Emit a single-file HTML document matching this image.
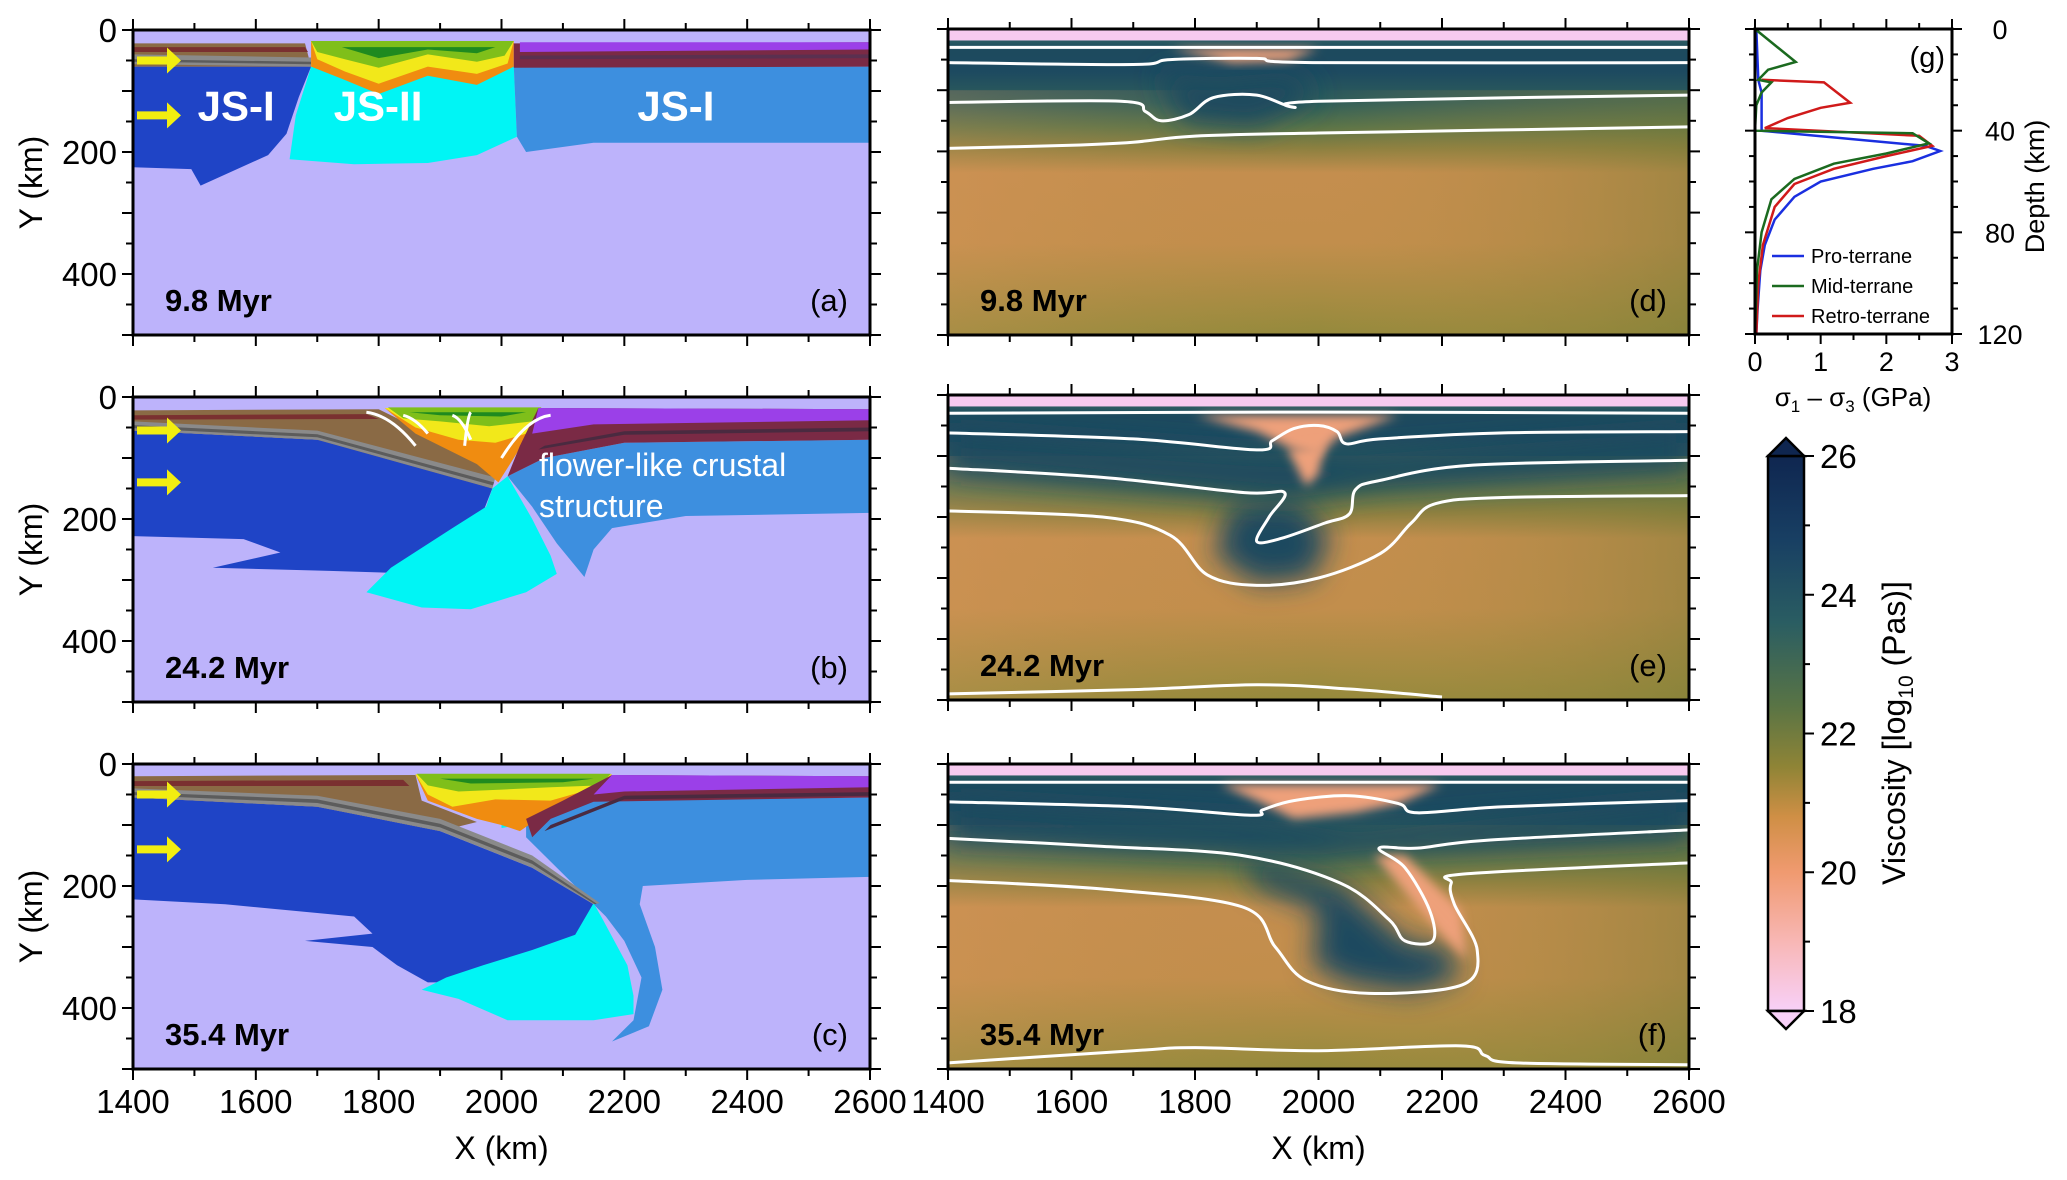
<!DOCTYPE html>
<html><head><meta charset="utf-8">
<style>
html,body{margin:0;padding:0;background:#fff;}
svg{display:block;font-family:"Liberation Sans",Arial,sans-serif;}
</style></head>
<body>
<svg id="fig" width="2067" height="1180" viewBox="0 0 2067 1180" xmlns="http://www.w3.org/2000/svg">
<defs>
<linearGradient id="visc" x1="0" y1="0" x2="0" y2="1">
<stop offset="0" stop-color="#f6caef"/><stop offset="0.035" stop-color="#f6caef"/>
<stop offset="0.04" stop-color="#2a5a62"/><stop offset="0.07" stop-color="#1d4a5e"/>
<stop offset="0.14" stop-color="#1d4a60"/><stop offset="0.24" stop-color="#2f5e5a"/>
<stop offset="0.32" stop-color="#5a7448"/><stop offset="0.39" stop-color="#8c8040"/>
<stop offset="0.47" stop-color="#c48e4e"/><stop offset="0.7" stop-color="#c28e4c"/>
<stop offset="1" stop-color="#948a3c"/>
</linearGradient>
<linearGradient id="vh" x1="0" y1="0" x2="1" y2="0">
<stop offset="0" stop-color="#e29a60" stop-opacity="0.25"/><stop offset="0.5" stop-color="#c09048" stop-opacity="0"/><stop offset="1" stop-color="#7f7e38" stop-opacity="0.5"/>
</linearGradient>
<linearGradient id="cbar" x1="0" y1="0" x2="0" y2="1">
<stop offset="0" stop-color="#0f2650"/><stop offset="0.15" stop-color="#183f63"/>
<stop offset="0.3" stop-color="#2a5d62"/><stop offset="0.45" stop-color="#597445"/>
<stop offset="0.56" stop-color="#8f8436"/><stop offset="0.65" stop-color="#cf8f45"/>
<stop offset="0.75" stop-color="#f09a70"/><stop offset="0.88" stop-color="#f8b8b8"/>
<stop offset="1" stop-color="#f8d0f8"/>
</linearGradient>
<filter id="blur" x="-50%" y="-50%" width="200%" height="200%"><feGaussianBlur stdDeviation="14"/></filter>
<filter id="blur2" x="-50%" y="-50%" width="200%" height="200%"><feGaussianBlur stdDeviation="5"/></filter>
<clipPath id="clipD"><rect x="948" y="0" width="741" height="1180"/></clipPath>
</defs>
<g id="root"></g>
</svg>
<script>
// ---- panel (g) data: differential stress profiles ----
const gDepth = [0, 40, 80, 120];
const gXTicks = [0, 1, 2, 3];
const proStress = [0.02,0.05,0.1,0.1,2.6,2.82,2.4,1.8,1.0,0.6,0.3,0.15,0.08,0.04,0.02];
const proDepth  = [0,20,25,40,46,48,52,55,60,66,75,85,95,110,120];
const midStress = [0,0.62,0.2,0.05,0.25,0.1,0.02,0,2.4,2.65,2.0,1.2,0.6,0.25,0.1,0.03,0];
const midDepth  = [0,13,16,20,21,25,30,40,41,45,49,53,59,67,80,95,120];
const retroStress = [0.1,1.05,1.45,1.0,0.5,0.15,2.5,2.7,2.0,1.2,0.6,0.3,0.12,0.05,0.02];
const retroDepth  = [20,21,29,31,35,39,42,46,50,55,61,70,85,100,120];
const legendNames = ["Pro-terrane","Mid-terrane","Retro-terrane"];
const legendColors = ["#1a2fe0","#1b6a1f","#d01a1a"];
const cbarTicks = [18,20,22,24,26];

const NS="http://www.w3.org/2000/svg";
const root=document.getElementById('root');
function el(tag,attrs,parent,text){const e=document.createElementNS(NS,tag);for(const k in attrs)e.setAttribute(k,attrs[k]);if(text!==undefined)e.textContent=text;(parent||root).appendChild(e);return e;}

const panelsL={a:[30,335],b:[397,702],c:[764,1069]};
const LX=[133,870], RX=[948,1689];
function mk(x0,x1,y0,y1){return {sx:v=>x0+(v-1400)/1200*(x1-x0),sy:v=>y0+v/500*(y1-y0),x0,x1,y0,y1};}
function pts(P,arr){return arr.map(p=>P.sx(p[0]).toFixed(1)+','+P.sy(p[1]).toFixed(1)).join(' ');}
function poly(P,arr,fill,g,name){const e=el('polygon',{points:pts(P,arr),fill:fill},g);return e;}
function smooth(P,arr){let d='M'+P.sx(arr[0][0])+','+P.sy(arr[0][1]);for(let i=0;i<arr.length-1;i++){const p0=arr[Math.max(i-1,0)],p1=arr[i],p2=arr[i+1],p3=arr[Math.min(i+2,arr.length-1)];const c1=[p1[0]+(p2[0]-p0[0])/6,p1[1]+(p2[1]-p0[1])/6],c2=[p2[0]-(p3[0]-p1[0])/6,p2[1]-(p3[1]-p1[1])/6];d+=' C'+P.sx(c1[0])+','+P.sy(c1[1])+' '+P.sx(c2[0])+','+P.sy(c2[1])+' '+P.sx(p2[0])+','+P.sy(p2[1]);}return d;}

function frame(P,g,labelsY,labelsX){
  el('rect',{x:P.x0,y:P.y0,width:P.x1-P.x0,height:P.y1-P.y0,fill:'none',stroke:'#000','stroke-width':3},g);
  for(let v=1400;v<=2600;v+=100){const x=P.sx(v),L=v%200===0?11:7;
    el('line',{x1:x,x2:x,y1:P.y0,y2:P.y0-L,stroke:'#000','stroke-width':2},g);
    el('line',{x1:x,x2:x,y1:P.y1,y2:P.y1+L,stroke:'#000','stroke-width':2},g);}
  for(let v=0;v<=500;v+=50){const y=P.sy(v),L=v%100===0?11:7;
    el('line',{x1:P.x0,x2:P.x0-L,y1:y,y2:y,stroke:'#000','stroke-width':2},g);
    el('line',{x1:P.x1,x2:P.x1+L,y1:y,y2:y,stroke:'#000','stroke-width':2},g);}
  if(labelsY){[0,200,400].forEach(v=>{const t=el('text',{x:P.x0-16,y:P.sy(v)+12,'font-size':33,'text-anchor':'end'},g,String(v));});
    const t=el('text',{transform:`translate(42,${(P.y0+P.y1)/2}) rotate(-90)`,'font-size':32,'text-anchor':'middle'},g,'Y (km)');}
  if(labelsX){[1400,1600,1800,2000,2200,2400,2600].forEach(v=>{const t=el('text',{x:P.sx(v),y:P.y1+44,'font-size':33,'text-anchor':'middle'},g,String(v));});
    const t=el('text',{x:(P.x0+P.x1)/2,y:P.y1+90,'font-size':32,'text-anchor':'middle'},g,'X (km)');}
}
function labels(P,g,time,tag,color){
  const t=el('text',{x:P.x0+32,y:P.y1-24,'font-size':31,'font-weight':'bold',fill:color||'#000'},g,time);
  const u=el('text',{x:P.x1-22,y:P.y1-24,'font-size':31,'text-anchor':'end'},g,tag);
}
function arrow(P,g,yv){const y=P.sy(yv),x=P.x0+4;const e=el('path',{d:`M${x},${y-4} h30 v-9 l14,13 l-14,13 v-9 h-30 z`,fill:'#f2ee10'},g);}

function panelA(){
  const P=mk(LX[0],LX[1],...panelsL.a);const g=el('g',{});
  el('rect',{x:P.x0,y:P.y0,width:P.x1-P.x0,height:P.y1-P.y0,fill:'#bdb3fb'},g);
  poly(P,[[1400,60],[1690,60],[1670,110],[1650,170],[1620,205],[1510,255],[1495,228],[1400,225]],'#1f44c6',g,'js-i-pro');
  poly(P,[[1690,60],[2020,60],[2025,175],[1960,205],[1880,218],[1760,220],[1655,212],[1665,140]],'#00f5f5',g,'js-ii');
  poly(P,[[2020,60],[2600,60],[2600,185],[2150,185],[2040,200],[2025,175]],'#3d8fdf',g,'js-i-retro');
  poly(P,[[1400,22],[1680,22],[1690,60],[1400,60]],'#8a6a45',g,'pro-crust');
  poly(P,[[1400,28],[1680,28],[1685,36],[1400,36]],'#7a3030',g,'pro-crust-stripe');
  poly(P,[[1400,40],[1690,45],[1690,60],[1400,56]],'#8a8a8a',g,'pro-lower-crust');
  poly(P,[[1400,48],[1690,52],[1690,56],[1400,52]],'#5c5c5c',g,'pro-lower-crust-stripe');
  poly(P,[[1690,18],[2020,18],[2020,60],[1960,90],[1880,75],[1800,105],[1740,80],[1690,60]],'#f08c10',g,'mid-crust-orange');
  poly(P,[[1690,18],[2020,18],[2010,55],[1960,72],[1880,60],[1800,88],[1745,68],[1700,48]],'#f2e81a',g,'mid-crust-yellow');
  poly(P,[[1690,18],[2020,18],[2005,42],[1960,52],[1880,40],[1800,62],[1745,48],[1700,36]],'#7fbf1a',g,'mid-crust-green');
  poly(P,[[1740,28],[1990,28],[1960,38],[1880,32],[1800,46]],'#1f8a1f',g,'mid-crust-stripe');
  poly(P,[[2020,22],[2600,20],[2600,60],[2020,62]],'#7a2a45',g,'retro-crust');
  poly(P,[[2030,20],[2600,20],[2600,32],[2030,36]],'#9b40e8',g,'retro-crust-purple');
  poly(P,[[2030,42],[2600,40],[2600,46],[2030,48]],'#5a3050',g,'retro-crust-stripe');
  [['JS-I',1568],['JS-II',1799],['JS-I',2284]].forEach(d=>{const t=el('text',{x:P.sx(d[1]),y:P.sy(148),'font-size':42,'font-weight':'bold',fill:'#fff','text-anchor':'middle'},g,d[0]);});
  arrow(P,g,50);arrow(P,g,140);
  frame(P,g,true,false);labels(P,g,'9.8 Myr','(a)');
}
function panelB(){
  const P=mk(LX[0],LX[1],...panelsL.b);const g=el('g',{});
  el('rect',{x:P.x0,y:P.y0,width:P.x1-P.x0,height:P.y1-P.y0,fill:'#bdb3fb'},g);
  poly(P,[[1400,55],[1700,70],[1850,105],[1985,150],[1950,240],[1880,290],[1720,285],[1530,280],[1640,255],[1580,233],[1400,228]],'#1f44c6',g,'js-i-pro');
  poly(P,[[2010,130],[2070,100],[2200,75],[2600,70],[2600,190],[2300,195],[2180,215],[2150,250],[2135,295],[2090,240],[2050,180]],'#3d8fdf',g,'js-i-retro');
  poly(P,[[1985,150],[2010,130],[2050,200],[2080,260],[2090,290],[2040,320],[1950,348],[1870,345],[1780,320],[1820,280],[1920,215],[1975,180]],'#00f5f5',g,'js-ii');
  poly(P,[[1400,22],[1800,20],[1880,60],[1990,110],[1985,150],[1700,70],[1400,55]],'#8a6a45',g,'pro-crust');
  poly(P,[[1400,30],[1780,28],[1800,36],[1400,37]],'#7a3030',g,'pro-crust-stripe');
  poly(P,[[1400,40],[1700,55],[1990,132],[1985,150],[1700,70],[1400,55]],'#8a8a8a',g,'slab-sediments');
  poly(P,[[1400,46],[1700,61],[1988,140],[1986,145],[1700,66],[1400,51]],'#5c5c5c',g,'slab-stripe');
  poly(P,[[1810,18],[2070,18],[2020,100],[1995,140],[1960,110],[1860,60]],'#f08c10',g,'mid-crust-orange');
  poly(P,[[1810,18],[2070,18],[2040,60],[1990,75],[1930,70],[1860,50]],'#f2e81a',g,'mid-crust-yellow');
  poly(P,[[1815,17],[2065,17],[2050,40],[1980,48],[1900,40],[1840,35]],'#7fbf1a',g,'mid-crust-green');
  poly(P,[[1850,25],[2040,25],[2000,32],[1900,30]],'#1f8a1f',g,'mid-crust-stripe');
  poly(P,[[2060,18],[2600,20],[2600,70],[2200,75],[2070,100],[2010,130],[2030,80]],'#7a2a45',g,'retro-crust');
  poly(P,[[2060,18],[2600,20],[2600,38],[2150,45],[2050,60]],'#9b40e8',g,'retro-crust-purple');
  poly(P,[[2600,50],[2200,56],[2070,80],[2060,86],[2200,62],[2600,56]],'#4a2a40',g,'retro-crust-stripe');
  [[[1860,80],[1780,25]],[[1880,60],[1840,30]],[[1940,80],[1950,25]],[[2000,100],[2080,30]],[[1950,70],[1920,30]]].forEach(a=>{const e=el('path',{d:`M${P.sx(a[0][0])},${P.sy(a[0][1])} Q${P.sx((a[0][0]+a[1][0])/2)},${P.sy(a[1][1]+5)} ${P.sx(a[1][0])},${P.sy(a[1][1])}`,stroke:'#fff','stroke-width':3,fill:'none'},g);});
  const t1=el('text',{x:539,y:476,'font-size':32,fill:'#fff'},g,'flower-like crustal');
  const t2=el('text',{x:539,y:517,'font-size':32,fill:'#fff'},g,'structure');
  arrow(P,g,55);arrow(P,g,140);
  frame(P,g,true,false);labels(P,g,'24.2 Myr','(b)');
}
function panelC(){
  const P=mk(LX[0],LX[1],...panelsL.c);const g=el('g',{});
  el('rect',{x:P.x0,y:P.y0,width:P.x1-P.x0,height:P.y1-P.y0,fill:'#bdb3fb'},g);
  poly(P,[[1400,55],[1700,70],[1900,110],[2050,170],[2150,230],[2160,250],[2100,300],[2020,330],[1930,358],[1880,358],[1830,330],[1790,300],[1680,290],[1790,278],[1760,250],[1550,230],[1400,222]],'#1f44c6',g,'js-i-pro');
  poly(P,[[2040,85],[2150,60],[2600,55],[2600,185],[2400,190],[2230,200],[2225,230],[2250,300],[2262,370],[2240,430],[2180,455],[2215,420],[2228,350],[2200,290],[2170,250],[2100,180],[2040,120]],'#3d8fdf',g,'js-i-retro');
  poly(P,[[2150,228],[2165,255],[2205,330],[2215,380],[2215,410],[2150,420],[2010,420],[1930,385],[1870,370],[1910,350],[1970,330],[2050,305],[2120,280]],'#00f5f5',g,'js-ii');
  poly(P,[[2000,80],[2020,90],[2030,100],[2000,105]],'#00f5f5',g,'js-ii-fragment');
  poly(P,[[1400,20],[1860,18],[1870,60],[1960,95],[1900,110],[1700,70],[1400,55]],'#8a6a45',g,'pro-crust');
  poly(P,[[1400,28],[1840,26],[1850,36],[1400,36]],'#7a3030',g,'pro-crust-stripe');
  poly(P,[[1400,40],[1700,52],[1900,90],[2050,150],[2160,228],[2150,230],[2050,170],[1900,110],[1700,70],[1400,55]],'#8a8a8a',g,'slab-sediments');
  poly(P,[[1400,46],[1700,58],[1900,98],[2050,158],[2155,229],[2152,230],[2050,164],[1900,104],[1700,64],[1400,51]],'#5c5c5c',g,'slab-stripe');
  poly(P,[[1860,17],[2180,17],[2150,45],[2080,75],[2030,110],[2000,100],[1960,90],[1880,60]],'#f08c10',g,'mid-crust-orange');
  poly(P,[[1860,17],[2180,17],[2150,40],[2080,60],[1990,58],[1920,70],[1880,50]],'#f2e81a',g,'mid-crust-yellow');
  poly(P,[[1862,16],[2178,16],[2160,35],[2080,38],[2000,42],[1930,45],[1880,35]],'#7fbf1a',g,'mid-crust-green');
  poly(P,[[1900,24],[2150,24],[2100,30],[1950,32]],'#1f8a1f',g,'mid-crust-stripe');
  poly(P,[[2180,18],[2600,20],[2600,55],[2150,62],[2080,90],[2050,120],[2040,90],[2100,60]],'#7a2a45',g,'retro-crust');
  poly(P,[[2180,18],[2600,20],[2600,38],[2200,45],[2150,50]],'#9b40e8',g,'retro-crust-purple');
  poly(P,[[2600,46],[2200,52],[2080,100],[2070,110],[2200,58],[2600,52]],'#4a2a40',g,'retro-crust-stripe');
  arrow(P,g,50);arrow(P,g,140);
  frame(P,g,true,true);labels(P,g,'35.4 Myr','(c)');
}
const contD=[[[1400,30],[2600,30]],[[1400,55],[1700,58],[1760,50],[1900,48],[1990,55],[2600,55]],[[1400,120],[1680,118],[1720,135],[1745,150],[1790,140],[1830,112],[1900,108],[1960,128],[2000,118],[2600,108]],[[1400,195],[1600,190],[1700,185],[1800,175],[2000,170],[2600,160]]];
const contE=[[[1400,30],[2000,28],[2600,30]],[[1400,62],[1700,72],[1900,90],[1925,75],[1960,55],[2000,50],[2030,60],[2045,80],[2100,72],[2300,62],[2600,60]],[[1400,120],[1650,135],[1880,160],[1945,160],[1920,200],[1900,240],[1940,235],[2010,210],[2050,195],[2060,155],[2100,140],[2250,115],[2600,107]],[[1400,190],[1650,200],[1760,230],[1820,295],[1900,312],[2000,300],[2100,260],[2150,210],[2190,178],[2300,168],[2600,165]],[[1400,490],[1700,483],[1900,475],[2050,482],[2200,495]]];
const contF=[[[1400,30],[2600,30]],[[1400,62],[1700,70],[1890,84],[1910,75],[1960,60],[2050,52],[2130,65],[2160,80],[2300,70],[2600,60]],[[1400,122],[1650,135],[1876,150],[2035,195],[2114,255],[2140,290],[2185,290],[2180,240],[2140,170],[2098,138],[2160,138],[2273,125],[2600,108]],[[1400,191],[1650,205],[1876,234],[1930,300],[1980,355],[2082,376],[2233,362],[2257,305],[2220,230],[2215,195],[2240,180],[2600,162]],[[1400,490],[1700,470],[1800,465],[2000,470],[2230,462],[2270,478],[2320,490],[2600,493]]];
function viscPanel(y0,y1,conts,dark,salmon,time,tag,xlab,name){
  const P=mk(RX[0],RX[1],y0,y1);const g=el('g',{});
  el('rect',{x:P.x0,y:P.y0,width:P.x1-P.x0,height:P.y1-P.y0,fill:'url(#visc)'},g);
  el('rect',{x:P.x0,y:P.sy(100),width:P.x1-P.x0,height:P.y1-P.sy(100),fill:'url(#vh)'},g);
  const dg=el('g',{'clip-path':'url(#clipD)'},g);
  dark.forEach(d=>{const e=poly(P,d,'#1d4a5e',dg,'high-viscosity-region');e.setAttribute('filter','url(#blur)');});
  salmon.forEach(d=>{const e=poly(P,d,'#eea07a',dg,'low-viscosity-region');e.setAttribute('filter','url(#blur2)');});
  el('rect',{x:P.x0,y:P.y0,width:P.x1-P.x0,height:P.sy(18)-P.y0,fill:'#f6caef'},g);
  conts.forEach(c=>{const e=el('path',{d:smooth(P,c),stroke:'#fff','stroke-width':3,fill:'none'},dg);});
  frame(P,g,false,xlab);labels(P,g,time,tag);
}
function panelG(){
  const g=el('g',{});
  const x0=1755,x1=1952,y0=29,y1=334;
  const sx=v=>x0+v/3*(x1-x0), sy=v=>y0+v/120*(y1-y0);
  [[proStress,proDepth,legendColors[0]],[retroStress,retroDepth,legendColors[2]],[midStress,midDepth,legendColors[1]]].forEach(s=>{
    const e=el('polyline',{points:s[0].map((v,j)=>sx(v).toFixed(1)+','+sy(s[1][j]).toFixed(1)).join(' '),fill:'none',stroke:s[2],'stroke-width':2.5},g);
    });
  el('rect',{x:x0,y:y0,width:x1-x0,height:y1-y0,fill:'none',stroke:'#000','stroke-width':3},g);
  for(let v=0;v<=3;v+=0.5){const L=v%1===0?10:6;el('line',{x1:sx(v),x2:sx(v),y1:y1,y2:y1+L,stroke:'#000','stroke-width':2},g);el('line',{x1:sx(v),x2:sx(v),y1:y0,y2:y0-L,stroke:'#000','stroke-width':2},g);}
  for(let v=0;v<=120;v+=10){const L=v%40===0?10:6;el('line',{x1:x1,x2:x1+L,y1:sy(v),y2:sy(v),stroke:'#000','stroke-width':2},g);el('line',{x1:x0,x2:x0-L,y1:sy(v),y2:sy(v),stroke:'#000','stroke-width':2},g);}
  gXTicks.forEach(v=>{const t=el('text',{x:sx(v),y:y1+37,'font-size':27,'text-anchor':'middle'},g,String(v));});
  gDepth.forEach(v=>{const t=el('text',{x:2000,y:sy(v)+10,'font-size':27,'text-anchor':'middle'},g,String(v));});
  const t=el('text',{transform:`translate(2044,${(y0+y1)/2+5}) rotate(-90)`,'font-size':27,'text-anchor':'middle'},g,'Depth (km)');
  const xt=el('text',{x:1853,y:406,'font-size':26,'text-anchor':'middle'},g);
  xt.innerHTML='σ<tspan font-size="17" dy="6">1</tspan><tspan dy="-6"> – σ</tspan><tspan font-size="17" dy="6">3</tspan><tspan dy="-6"> (GPa)</tspan>';
  const gl=el('text',{x:1945,y:67,'font-size':29,'text-anchor':'end'},g,'(g)');
  legendNames.forEach((n,i)=>{const y=256+i*30;const le=el('g',{},g);
    el('line',{x1:1772,x2:1804,y1:y,y2:y,stroke:legendColors[i],'stroke-width':2.5},le);el('text',{x:1811,y:y+7,'font-size':20},le,n);});
}
function colorbar(){
  const g=el('g',{});
  const x0=1768,x1=1804,y0=456,y1=1011;const sy=v=>y1-(v-18)/8*(y1-y0);
  el('rect',{x:x0,y:y0,width:x1-x0,height:y1-y0,fill:'url(#cbar)',stroke:'#000','stroke-width':2.5},g);
  el('polygon',{points:`${x0},${y0} ${(x0+x1)/2},${y0-18} ${x1},${y0}`,fill:'#0f2650',stroke:'#000','stroke-width':2.5},g);
  el('polygon',{points:`${x0},${y1} ${(x0+x1)/2},${y1+18} ${x1},${y1}`,fill:'#f8d0f8',stroke:'#000','stroke-width':2.5},g);
  for(let v=18;v<=26;v++){el('line',{x1:x1,x2:x1+(v%2===0?10:6),y1:sy(v),y2:sy(v),stroke:'#000','stroke-width':2},g);}
  cbarTicks.forEach(v=>{const t=el('text',{x:1820,y:sy(v)+12,'font-size':33},g,String(v));});
  const t=el('text',{transform:'translate(1905,733) rotate(-90)','font-size':32,'text-anchor':'middle'},g);
  t.innerHTML='Viscosity [log<tspan font-size="21" dy="8">10</tspan><tspan dy="-8"> (Pas)]</tspan>';
}
panelA();panelB();panelC();
viscPanel(29,335,contD,[[[1740,70],[1830,80],[1960,70],[2000,110],[1900,160],[1780,150]]],[[[1760,32],[2000,32],[1950,52],[1860,55]]],'9.8 Myr','(d)',false,'panel-d');
viscPanel(395,700,contE,[[[1860,180],[1960,170],[2020,230],[1990,300],[1900,310],[1830,260]],[[1400,60],[1900,95],[2050,100],[2600,60],[2600,120],[2100,150],[1950,170],[1400,125]]],[[[1800,33],[2130,33],[2030,70],[2000,100],[1960,90],[1900,60]],[[1950,90],[2010,80],[2000,130],[1980,150]]],'24.2 Myr','(e)',false,'panel-e');
viscPanel(764,1069,contF,[[[1876,150],[2035,195],[2140,290],[2210,300],[2230,350],[2150,375],[2050,360],[1990,330],[2000,240],[1900,200]],[[1400,60],[1900,90],[2050,110],[2600,60],[2600,120],[2150,140],[2000,150],[1400,125]]],[[[1840,33],[2200,33],[2130,65],[2060,80],[1960,90],[1900,60]],[[2090,150],[2140,150],[2230,240],[2240,320],[2200,280]]],'35.4 Myr','(f)',true,'panel-f');
panelG();colorbar();
</script>
</body></html>
